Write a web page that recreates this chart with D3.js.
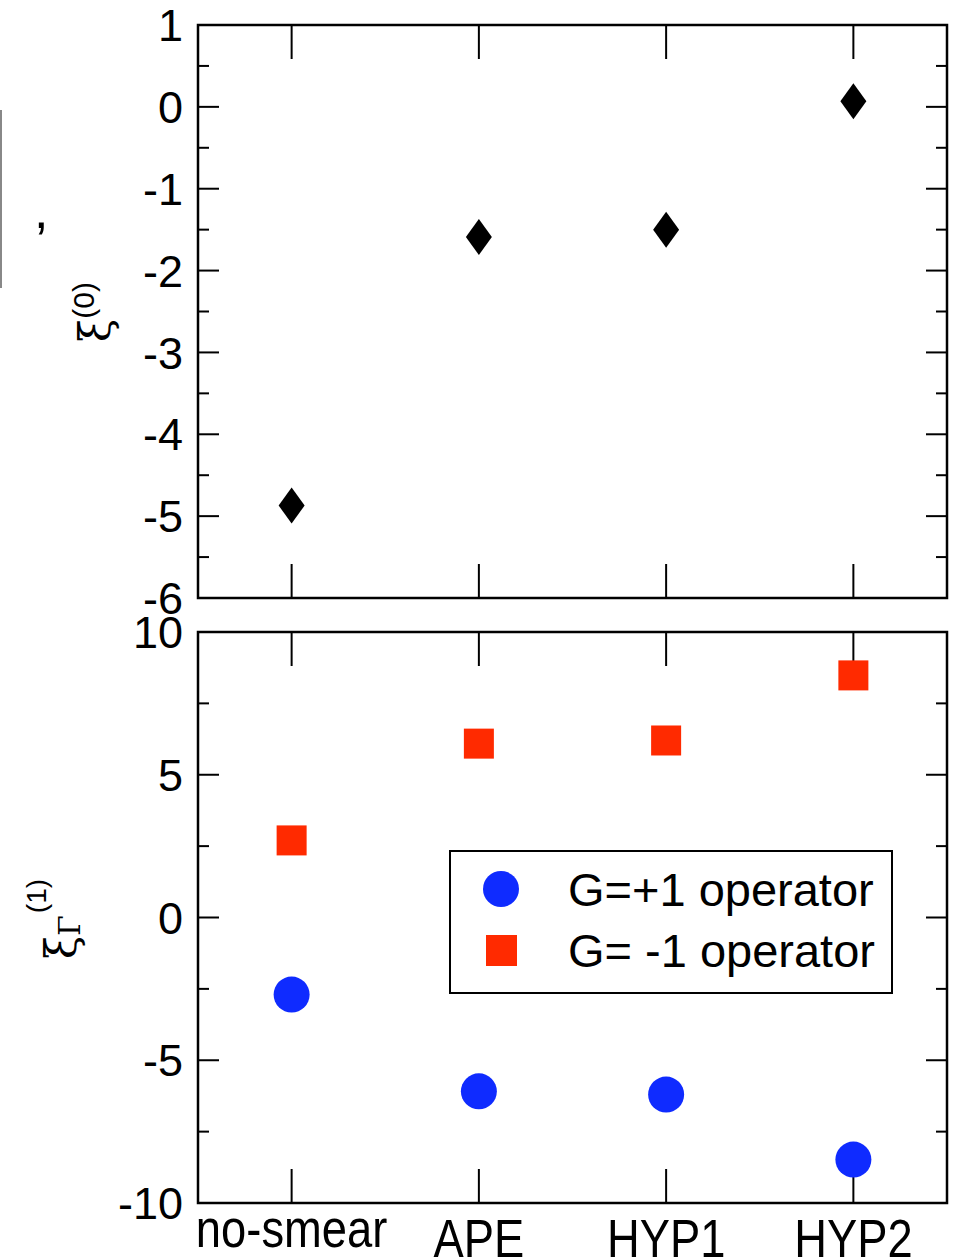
<!DOCTYPE html>
<html><head><meta charset="utf-8">
<script src="https://cdn.jsdelivr.net/npm/d3@7"></script>
<style>body{margin:0;background:#fff}svg{display:block}text{font-family:"Liberation Sans",Arial,sans-serif}</style>
</head><body>
<script>
const categories = ["no-smear","APE","HYP1","HYP2"];
const xi0 = [-4.87, -1.59, -1.50, 0.07];
const gPlus = [-2.70, -6.09, -6.20, -8.48];
const gMinus = [2.70, 6.09, 6.20, 8.48];
const topTicks = [1,0,-1,-2,-3,-4,-5,-6];
const botTicks = [10,5,0,-5,-10];
const legendLabels = ["G=+1 operator","G= -1 operator"];

const W=961,H=1258;
const svg=d3.select("body").append("svg").attr("width",W).attr("height",H);
const x=d3.scaleLinear().domain([0.5,4.5]).range([198,947]);
const yT=d3.scaleLinear().domain([-6,1]).range([598,25]);
const yB=d3.scaleLinear().domain([-10,10]).range([1203,632]);

function panel(y, ticks, minorStep, top, bottom){
  const g=svg.append("g");
  const [d0,d1]=y.domain();
  for(let v=d0; v<=d1+1e-9; v+=minorStep){
    const vv=Math.round(v*1000)/1000;
    const major=ticks.includes(vv);
    const len=major?21:11;
    g.append("line").attr("x1",198).attr("x2",198+len).attr("y1",y(vv)).attr("y2",y(vv)).attr("stroke","#000").attr("stroke-width",2);
    g.append("line").attr("x1",947).attr("x2",947-len).attr("y1",y(vv)).attr("y2",y(vv)).attr("stroke","#000").attr("stroke-width",2);
  }
  categories.forEach((c,i)=>{
    g.append("line").attr("x1",x(i+1)).attr("x2",x(i+1)).attr("y1",top).attr("y2",top+34).attr("stroke","#000").attr("stroke-width",2);
    g.append("line").attr("x1",x(i+1)).attr("x2",x(i+1)).attr("y1",bottom).attr("y2",bottom-34).attr("stroke","#000").attr("stroke-width",2);
  });
  ticks.forEach(t=>{
    g.append("text").attr("x",183).attr("y",y(t)).attr("dy","0.36em").attr("text-anchor","end").attr("font-size",45).text(t);
  });
  g.append("rect").attr("x",198).attr("y",top).attr("width",749).attr("height",bottom-top).attr("fill","none").attr("stroke","#000").attr("stroke-width",2.5);
  return g;
}
panel(yT, topTicks, 0.5, 25, 598);
panel(yB, botTicks, 2.5, 632, 1203);

svg.append("g").selectAll("path").data(xi0).join("path")
  .attr("d",(d,i)=>{const cx=x(i+1),cy=yT(d);return `M${cx},${cy-18}L${cx+13},${cy}L${cx},${cy+18}L${cx-13},${cy}Z`;})
  .attr("fill","#000");
svg.append("g").selectAll("rect").data(gMinus).join("rect")
  .attr("x",(d,i)=>x(i+1)-15).attr("y",d=>yB(d)-15).attr("width",30).attr("height",30).attr("fill","#ff2a00");
svg.append("g").selectAll("circle").data(gPlus).join("circle")
  .attr("cx",(d,i)=>x(i+1)).attr("cy",d=>yB(d)).attr("r",18).attr("fill","#0f2bff");

// x labels
svg.append("g").selectAll("text").data(categories).join("text")
  .attr("x",(d,i)=>x(i+1)).attr("y",(d,i)=>i===0?1247:1257).attr("text-anchor","middle").attr("font-size",54)
  .attr("transform",(d,i)=>`translate(${x(i+1)},0) scale(0.84,1) translate(${-x(i+1)},0)`)
  .text(d=>d);

// legend
const lg=svg.append("g");
lg.append("rect").attr("x",450).attr("y",851).attr("width",442).attr("height",142).attr("fill","#fff").attr("stroke","#000").attr("stroke-width",2);
lg.append("circle").attr("cx",501).attr("cy",889).attr("r",18).attr("fill","#0f2bff");
lg.append("rect").attr("x",486).attr("y",935).attr("width",31).attr("height",31).attr("fill","#ff2a00");
legendLabels.forEach((t,i)=>lg.append("text").attr("x",568).attr("y",889+i*61).attr("dy","0.36em").attr("font-size",47).text(t));

// y axis labels
const l1=svg.append("text").attr("transform","translate(110,312) rotate(-90)").attr("text-anchor","middle").attr("font-size",42);
l1.append("tspan").attr("font-family","DejaVu Serif").text("ξ");
l1.append("tspan").attr("dy",-16).attr("font-size",30).text("(0)");
const l2=svg.append("text").attr("transform","translate(76,919) rotate(-90)").attr("text-anchor","middle").attr("font-size",42);
l2.append("tspan").attr("font-family","DejaVu Serif").text("ξ");
l2.append("tspan").attr("dy",4).attr("font-size",30).attr("font-family","DejaVu Serif").text("Γ");
l2.append("tspan").attr("dx",2).attr("dy",-34).attr("font-size",28).text("(1)");

// stray artifacts at left edge
svg.append("line").attr("x1",1).attr("x2",1).attr("y1",110).attr("y2",288).attr("stroke","#888").attr("stroke-width",2);
svg.append("text").attr("x",34).attr("y",228).attr("font-size",52).text(",");
</script>
</body></html>
